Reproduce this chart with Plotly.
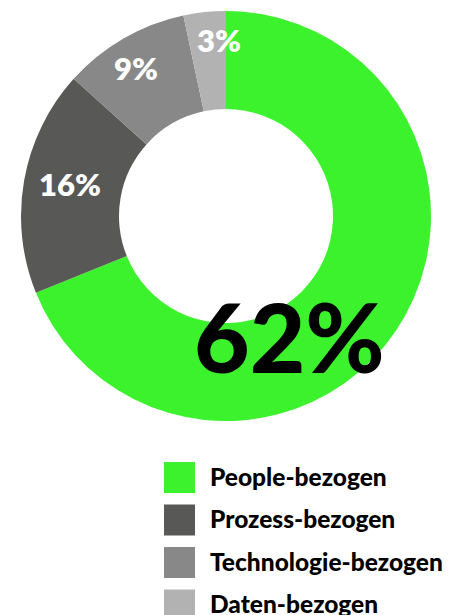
import math
import plotly.graph_objects as go

categories = ["People-bezogen", "Prozess-bezogen", "Technologie-bezogen", "Daten-bezogen"]
values = [62, 16, 9, 3]
colors = ["#3BF22D", "#585856", "#888888", "#B2B2B2"]

W, H = 460, 615
OFF = 8                      # page body margin offset
CX, CY, R = 226 - OFF, 216 - OFF, 205   # pie centre / outer radius in pixels
HOLE = 0.522

fig = go.Figure()
fig.add_trace(go.Pie(
    labels=categories, values=values, sort=False, direction="clockwise", rotation=0,
    hole=HOLE, marker=dict(colors=colors, line=dict(width=0)),
    textinfo="none", hoverinfo="label+value", showlegend=False,
    domain=dict(x=[(CX - R) / W, (CX + R) / W], y=[1 - (CY + R) / H, 1 - (CY - R) / H]),
))

# slice labels, placed from each slice's mid-angle
label_r = [135, 159, 173, 176]
label_shift = [28, 1.5, -1.3, 3.7]   # degrees
label_size = [96, 31, 31, 31]
label_color = ["#000000", "#FFFFFF", "#FFFFFF", "#FFFFFF"]
total = sum(values)
cum = 0
for i, v in enumerate(values):
    mid = (cum + v / 2) / total * 360 + label_shift[i]
    cum += v
    a = math.radians(mid)
    px = CX + label_r[i] * math.sin(a)
    py = CY - label_r[i] * math.cos(a)
    fig.add_annotation(
        x=px / W, y=1 - py / H, xref="paper", yref="paper", showarrow=False,
        text=f"{v}%", xanchor="center", yanchor="middle",
        font=dict(family="Lato", size=label_size[i], color=label_color[i], weight=900 if i == 0 else 800),
    )

# custom legend
LX, LY0, LSTEP, LS = 164 - OFF, 477.5 - OFF, 42.5, 31
TX = 208 - OFF
for i, (c, col) in enumerate(zip(categories, colors)):
    yc = LY0 + i * LSTEP
    fig.add_shape(type="rect", xref="paper", yref="paper",
                  x0=LX / W, x1=(LX + LS) / W, y0=1 - (yc + LS / 2) / H, y1=1 - (yc - LS / 2) / H,
                  fillcolor=col, line=dict(width=0))
    fig.add_annotation(x=TX / W, y=1 - (yc - 1.5) / H, xref="paper", yref="paper", showarrow=False,
                       text=c, xanchor="left", yanchor="middle",
                       font=dict(family="Lato", size=24.5, color="#000000", weight=900))

fig.update_layout(width=W, height=H, margin=dict(l=0, r=0, t=0, b=0),
                  paper_bgcolor="white", plot_bgcolor="white")
fig.write_html("out.html")
